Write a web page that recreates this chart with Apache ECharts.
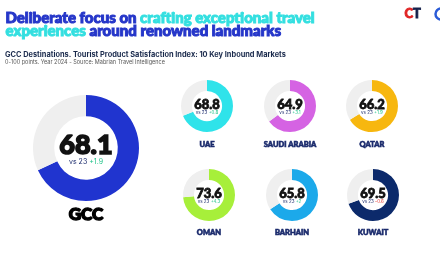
<!DOCTYPE html>
<html><head><meta charset="utf-8">
<script src="https://cdn.jsdelivr.net/npm/echarts@6/dist/echarts.min.js"></script>
<style>html,body{margin:0;padding:0;background:#fff}#c{width:440px;height:264px}</style>
</head><body><div id="c"></div>
<script>
const markets = ['GCC','UAE','SAUDI ARABIA','QATAR','OMAN','BARHAIN','KUWAIT'];
const scores = [68.1, 68.8, 64.9, 66.2, 73.6, 65.8, 69.5];
const deltas = ['+1.9','+0.8','+3.1','+1.9','+4.3','+2','-0.6'];
const colors = ['#2034cf','#2fe3ea','#d563e3','#f7b70f','#a7ef3a','#1ca9ea','#0c2a6b'];

const layout = [
  {c:[86,148], R:53, k:0.6, num:27, sw:1.6, sub:7, lab:17, lsw:1.4, labY:215},
  {c:[207,106], R:26, k:0.58, num:13, sw:0.8, sub:4.5, lab:7.5, lsw:0.6, labY:145},
  {c:[290,106], R:26, k:0.58, num:13, sw:0.8, sub:4.5, lab:7.5, lsw:0.6, labY:145},
  {c:[372,106], R:26, k:0.58, num:13, sw:0.8, sub:4.5, lab:7.5, lsw:0.6, labY:145},
  {c:[209,195], R:26, k:0.58, num:13, sw:0.8, sub:4.5, lab:7.5, lsw:0.6, labY:233},
  {c:[292,195], R:26, k:0.58, num:13, sw:0.8, sub:4.5, lab:7.5, lsw:0.6, labY:233},
  {c:[373,195], R:26, k:0.58, num:13, sw:0.8, sub:4.5, lab:7.5, lsw:0.6, labY:233}
];
const heavy = 'Lato';
const chart = echarts.init(document.getElementById('c'), null, {renderer:'canvas'});
const series = [], graphic = [];
markets.forEach((m,i)=>{
  const L = layout[i];
  series.push({
    type:'pie', center:L.c, radius:[L.R*L.k, L.R],
    startAngle:90, clockwise:true, silent:true, label:{show:false}, labelLine:{show:false},
    data:[{value:scores[i], itemStyle:{color:colors[i]}},{value:100-scores[i], itemStyle:{color:'#efefef'}}]
  });
  graphic.push({type:'text', x:L.c[0], y:L.c[1]-L.num*0.1, style:{text:scores[i].toFixed(1), font:`900 ${L.num}px ${heavy}`, fill:'#111', stroke:'#111', lineWidth:L.sw, align:'center', verticalAlign:'middle'}});
  graphic.push({type:'text', x:L.c[0], y:L.c[1]+L.num*0.52, style:{
    text:`{a|vs 23 }{b|${deltas[i]}}`, align:'center', verticalAlign:'middle',
    rich:{a:{fontSize:L.sub, fontFamily:'Inter', fill:'#1a2a6c'}, b:{fontSize:L.sub, fontFamily:'Inter', fill: deltas[i][0]==='-'?'#e53935':'#22c38a'}}}});
  const lc = i===0?'#000':'#1a2a6c';
  graphic.push({type:'text', x:L.c[0], y:L.labY, style:{text:m, font:`900 ${L.lab}px ${heavy}`, fill:lc, stroke:lc, lineWidth:L.lsw, align:'center', verticalAlign:'middle'}});
});
const tb = {fontSize:15, fontWeight:900, fontFamily:heavy, lineHeight:12.5, lineWidth:1};
graphic.push({type:'text', left:5, top:10.5, style:{
  text:'{b|Deliberate focus on }{c|crafting exceptional travel}\n{c|experiences}{b| around renowned landmarks}',
  rich:{b:Object.assign({fill:'#2536c9', stroke:'#2536c9'}, tb), c:Object.assign({fill:'#33dfe0', stroke:'#33dfe0'}, tb)}}});
graphic.push({type:'text', left:5, top:51, style:{text:'GCC Destinations. Tourist Product Satisfaction Index: 10 Key Inbound Markets', font:'700 7.4px Inter', fill:'#1a2a4c'}});
graphic.push({type:'text', left:5, top:59.5, style:{text:'0-100 points. Year 2024 - Source: Mabrian Travel Intelligence', font:'400 5.5px Inter', fill:'#555'}});
graphic.push({type:'text', left:404, top:7, style:{text:'{r|C}{n|T}', rich:{r:{fontSize:13, fontWeight:900, fontFamily:heavy, fill:'#e02424', stroke:'#e02424', lineWidth:0.8}, n:{fontSize:13, fontWeight:900, fontFamily:heavy, fill:'#14204a', stroke:'#14204a', lineWidth:0.8}}}});
graphic.push({type:'circle', shape:{cx:441, cy:14, r:5.5}, style:{fill:'none', stroke:'#2a5bd7', lineWidth:2.5}});
chart.setOption({animation:false, backgroundColor:'#fff', series, graphic});
</script></body></html>
